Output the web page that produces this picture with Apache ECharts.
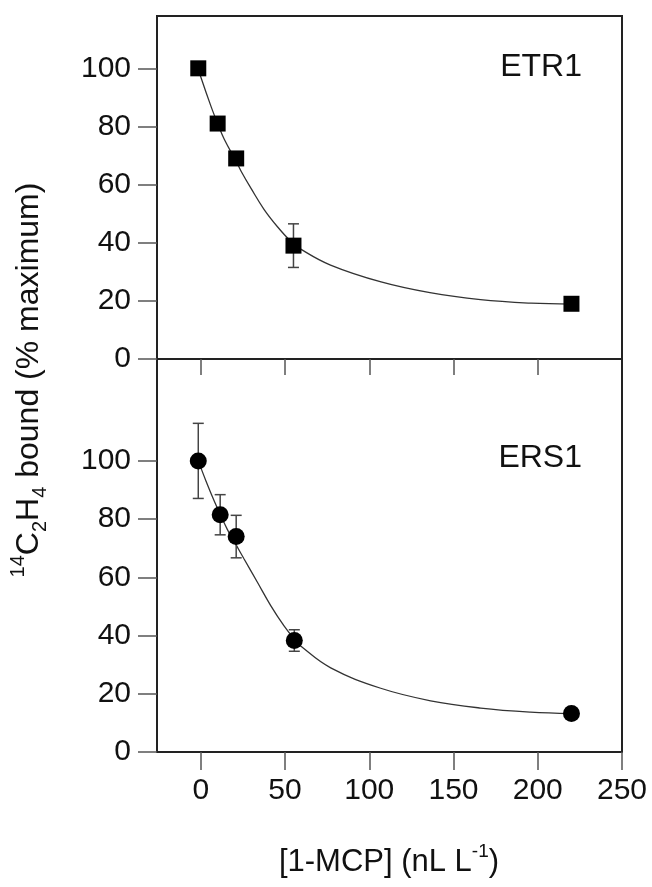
<!DOCTYPE html>
<html>
<head>
<meta charset="utf-8">
<script src="https://cdn.jsdelivr.net/npm/echarts@6/dist/echarts.min.js"></script>
<style>
html,body{margin:0;padding:0;background:#fff;}
#chart{width:652px;height:887px;}
</style>
</head>
<body>
<div id="chart"></div>
<script>
// ---- data ----
var xTicks = [0, 50, 100, 150, 200, 250];
var yTicks = [0, 20, 40, 60, 80, 100];

// ETR1 (top panel, squares)
var etr1X = [-1.5, 10, 21, 55, 220];
var etr1Y = [100, 81, 69, 39, 19];
var etr1Err = [0, 0, 0, 7.5, 0];
var etr1CurveX = [-1.5, 0, 6, 10, 14, 21, 24, 30, 37.5, 45.5, 53.4, 59.3, 77, 107, 136, 166, 196, 220];
var etr1CurveY = [100, 97, 87, 81, 75.5, 68, 64.5, 58.5, 51.5, 45.5, 40.5, 37.8, 32.3, 26.5, 22.8, 20.4, 19.2, 18.9];

// ERS1 (bottom panel, circles)
var ers1X = [-1.5, 11.5, 21, 55.5, 220];
var ers1Y = [100, 81.5, 74, 38.3, 13.2];
var ers1Err = [12.9, 6.9, 7.3, 3.7, 0];
var ers1CurveX = [-1.5, 3, 7.9, 11.9, 15.8, 20.8, 25.7, 33.6, 41.5, 49.4, 55.3, 59.3, 77.1, 106.8, 136.4, 166.1, 195.7, 220];
var ers1CurveY = [100, 93.2, 86.3, 81.2, 76.4, 71.3, 66.3, 58.3, 50.3, 43.3, 38.9, 36.4, 28.9, 21.9, 17.6, 15.1, 13.7, 13.2];

function pairs(xs, ys) { return xs.map(function (x, i) { return [x, ys[i]]; }); }
function errs(xs, ys, es) {
  var out = [];
  xs.forEach(function (x, i) { if (es[i] > 0) out.push([x, ys[i] - es[i], ys[i] + es[i]]); });
  return out;
}

var FONT = '"Liberation Sans", Arial, Helvetica, sans-serif';
var INK = '#111';
var LINE = '#222';

function errRender(params, api) {
  var x = api.value(0), lo = api.value(1), hi = api.value(2);
  var p1 = api.coord([x, hi]), p2 = api.coord([x, lo]);
  var w = 5.5;
  var st = { stroke: '#444', lineWidth: 1.5 };
  return {
    type: 'group',
    children: [
      { type: 'line', shape: { x1: p1[0], y1: p1[1], x2: p2[0], y2: p2[1] }, style: st },
      { type: 'line', shape: { x1: p1[0] - w, y1: p1[1], x2: p1[0] + w, y2: p1[1] }, style: st },
      { type: 'line', shape: { x1: p2[0] - w, y1: p2[1], x2: p2[0] + w, y2: p2[1] }, style: st }
    ]
  };
}

function xAxisCfg(grid, showLabels, tickLen, tickVals) {
  return {
    type: 'value', gridIndex: grid, min: -26, max: 250, position: 'bottom',
    axisLine: { show: true, onZero: false, lineStyle: { color: LINE, width: 2 } },
    axisTick: { show: true, inside: false, length: tickLen, customValues: tickVals,
      lineStyle: { color: '#555', width: 1.5 } },
    axisLabel: { show: showLabels, customValues: xTicks, margin: 24,
      fontFamily: FONT, fontSize: 30, color: INK },
    splitLine: { show: false }
  };
}
function yAxisCfg(grid, max) {
  return {
    type: 'value', gridIndex: grid, min: 0, max: max, position: 'left',
    axisLine: { show: true, onZero: false, lineStyle: { color: LINE, width: 2 } },
    axisTick: { show: true, inside: false, length: 19, customValues: yTicks,
      lineStyle: { color: '#555', width: 1.5 } },
    axisLabel: { show: true, customValues: yTicks, margin: 26,
      fontFamily: FONT, fontSize: 30, color: INK },
    splitLine: { show: false }
  };
}

var chart = echarts.init(document.getElementById('chart'), null, { renderer: 'canvas' });
chart.setOption({
  animation: false,
  backgroundColor: '#fff',
  grid: [
    { left: 157, right: 30, top: 16, height: 343, show: true, borderColor: LINE, borderWidth: 2 },
    { left: 157, right: 30, top: 359, height: 393, show: true, borderColor: LINE, borderWidth: 2 }
  ],
  xAxis: [xAxisCfg(0, false, 16, xTicks.slice(0, 5)), xAxisCfg(1, true, 18, xTicks)],
  yAxis: [yAxisCfg(0, 118), yAxisCfg(1, 135)],
  graphic: [
    { type: 'text', x: 582, y: 67, style: { text: 'ETR1', font: '32px ' + FONT, fill: INK, align: 'right', verticalAlign: 'middle' } },
    { type: 'text', x: 582, y: 458, style: { text: 'ERS1', font: '32px ' + FONT, fill: INK, align: 'right', verticalAlign: 'middle' } },
    { type: 'text', x: 29, y: 380, rotation: Math.PI / 2,
      style: {
        text: '{sup|14}{n|C}{sub|2}{n|H}{sub|4}{n| bound (% maximum)}',
        align: 'center', verticalAlign: 'middle', fill: INK,
        rich: {
          n: { fontFamily: FONT, fontSize: 32, lineHeight: 42, fill: INK },
          sup: { fontFamily: FONT, fontSize: 20, lineHeight: 26, verticalAlign: 'top', fill: INK },
          sub: { fontFamily: FONT, fontSize: 20, lineHeight: 24, verticalAlign: 'bottom', fill: INK }
        }
      } },
    { type: 'text', x: 389, y: 862,
      style: {
        text: '{n|[1-MCP] (nL L}{sup|-1}{n|)}',
        align: 'center', verticalAlign: 'middle', fill: INK,
        rich: {
          n: { fontFamily: FONT, fontSize: 31, lineHeight: 40, fill: INK },
          sup: { fontFamily: FONT, fontSize: 19, lineHeight: 30, verticalAlign: 'top', fill: INK }
        }
      } }
  ],
  series: [
    { type: 'line', xAxisIndex: 0, yAxisIndex: 0, data: pairs(etr1CurveX, etr1CurveY), smooth: 0.4,
      showSymbol: false, lineStyle: { color: '#333', width: 1.3 }, z: 2, silent: true },
    { type: 'custom', xAxisIndex: 0, yAxisIndex: 0, data: errs(etr1X, etr1Y, etr1Err), renderItem: errRender, z: 3 },
    { type: 'scatter', xAxisIndex: 0, yAxisIndex: 0, data: pairs(etr1X, etr1Y), symbol: 'rect', symbolSize: 16,
      itemStyle: { color: '#000', opacity: 1 }, z: 4 },
    { type: 'line', xAxisIndex: 1, yAxisIndex: 1, data: pairs(ers1CurveX, ers1CurveY), smooth: 0.4,
      showSymbol: false, lineStyle: { color: '#333', width: 1.3 }, z: 2, silent: true },
    { type: 'custom', xAxisIndex: 1, yAxisIndex: 1, data: errs(ers1X, ers1Y, ers1Err), renderItem: errRender, z: 3 },
    { type: 'scatter', xAxisIndex: 1, yAxisIndex: 1, data: pairs(ers1X, ers1Y), symbol: 'circle', symbolSize: 17,
      itemStyle: { color: '#000', opacity: 1 }, z: 4 }
  ]
});
</script>
</body>
</html>
